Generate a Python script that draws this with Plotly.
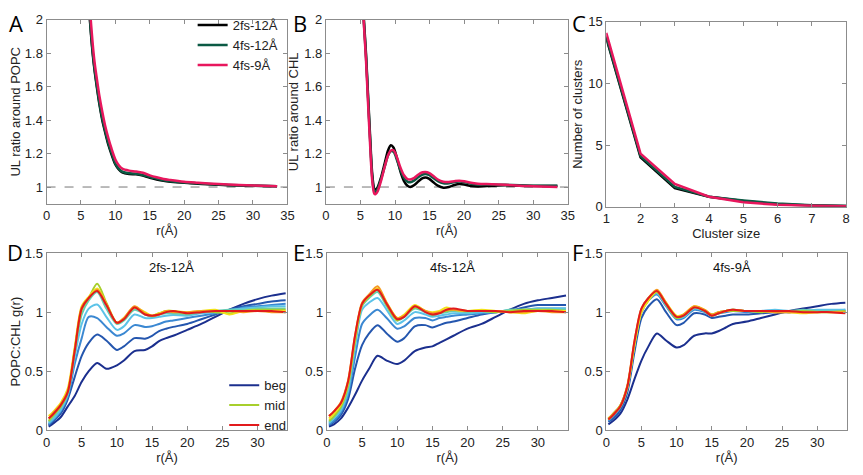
import plotly.graph_objects as go

# ---------------- data ----------------
# Panel A: UL ratio around POPC
rA = [6.0, 6.3, 6.7, 7.0, 7.3, 7.7, 8.1, 8.5, 9.0, 9.4, 10.0, 10.5, 11.0, 12.0, 13.0, 14.0,
      15.0, 16.0, 17.0, 18.0, 20.0, 22.0, 25.0, 28.0, 30.0, 33.5]
A_2fs12 = [2.2, 2.0, 1.8, 1.69, 1.6, 1.49, 1.4, 1.33, 1.25, 1.2, 1.135, 1.105, 1.088, 1.078, 1.076,
           1.068, 1.055, 1.045, 1.037, 1.032, 1.025, 1.02, 1.013, 1.009, 1.007, 1.005]
A_4fs12 = [2.21, 2.01, 1.81, 1.70, 1.61, 1.50, 1.41, 1.34, 1.26, 1.21, 1.14, 1.11, 1.092, 1.082, 1.08,
           1.072, 1.06, 1.05, 1.04, 1.035, 1.027, 1.022, 1.015, 1.01, 1.008, 1.005]
A_4fs9 = [2.28, 2.07, 1.86, 1.74, 1.65, 1.54, 1.45, 1.37, 1.29, 1.235, 1.165, 1.13, 1.11, 1.098, 1.093,
          1.085, 1.07, 1.058, 1.048, 1.042, 1.032, 1.026, 1.018, 1.012, 1.009, 1.005]

# Panel B: UL ratio around CHL
rB = [5.2, 5.5, 5.8, 6.1, 6.4, 6.7, 7.0, 7.2, 7.5, 8.0, 8.5, 9.0, 9.4, 9.8, 10.3, 10.8, 11.3, 11.8,
      12.2, 12.8, 13.4, 14.0, 14.4, 14.9, 15.5, 16.2, 17.0, 17.8, 18.6, 19.3, 20.0, 21.0, 22.0,
      24.0, 26.0, 28.0, 30.0, 33.5]
B_2fs12 = [2.22, 2.0, 1.8, 1.55, 1.3, 1.08, 0.99, 0.985, 1.0, 1.06, 1.14, 1.22, 1.25, 1.235, 1.17,
           1.09, 1.035, 1.007, 1.0, 1.012, 1.035, 1.053, 1.057, 1.05, 1.03, 1.008, 0.996, 1.0,
           1.012, 1.018, 1.015, 1.006, 1.003, 1.007, 1.01, 1.007, 1.006, 1.006]
B_4fs12 = [2.2, 1.98, 1.78, 1.53, 1.28, 1.06, 0.975, 0.972, 0.99, 1.05, 1.12, 1.19, 1.215, 1.21,
           1.16, 1.1, 1.055, 1.032, 1.028, 1.04, 1.06, 1.075, 1.078, 1.072, 1.055, 1.035, 1.022,
           1.022, 1.03, 1.033, 1.03, 1.02, 1.015, 1.015, 1.013, 1.01, 1.008, 1.008]
B_4fs9 = [2.2, 1.97, 1.76, 1.5, 1.25, 1.04, 0.96, 0.958, 0.975, 1.04, 1.12, 1.19, 1.218, 1.22,
          1.175, 1.115, 1.07, 1.048, 1.045, 1.055, 1.075, 1.088, 1.09, 1.085, 1.068, 1.045, 1.032,
          1.03, 1.035, 1.038, 1.035, 1.025, 1.02, 1.017, 1.013, 1.008, 1.005, 1.0]

# Panel C: number of clusters
cluster_size = [1, 2, 3, 4, 5, 6, 7, 8]
C_2fs12 = [13.7, 4.0, 1.5, 0.8, 0.45, 0.2, 0.1, 0.05]
C_4fs12 = [13.8, 4.1, 1.6, 0.8, 0.5, 0.25, 0.12, 0.06]
C_4fs9 = [14.1, 4.3, 1.85, 0.8, 0.35, 0.15, 0.08, 0.03]

series_names = ["2fs-12Å", "4fs-12Å", "4fs-9Å"]
series_colors = ["#000000", "#0b5a44", "#e8175d"]

# Panels D-F: POPC:CHL g(r), beg -> end
rG = [0.3, 1, 2, 3, 4, 5, 6, 7.2, 8.5, 10, 11, 12.5, 14, 15, 16, 17, 18, 20, 22, 24, 26, 28, 30, 32, 34]

D = [
    [0.03, 0.06, 0.11, 0.2, 0.29, 0.41, 0.5, 0.57, 0.52, 0.55, 0.59, 0.67, 0.68, 0.71, 0.755, 0.78, 0.8, 0.85, 0.9, 0.96, 1.02, 1.07, 1.11, 1.14, 1.16],
    [0.04, 0.08, 0.14, 0.26, 0.45, 0.63, 0.74, 0.81, 0.76, 0.68, 0.71, 0.78, 0.775, 0.8, 0.84, 0.86, 0.875, 0.9, 0.94, 0.98, 1.02, 1.05, 1.07, 1.09, 1.1],
    [0.05, 0.09, 0.16, 0.28, 0.56, 0.78, 0.96, 0.95, 0.875, 0.8, 0.82, 0.89, 0.875, 0.88, 0.9, 0.92, 0.93, 0.95, 0.97, 0.99, 1.01, 1.04, 1.05, 1.06, 1.07],
    [0.06, 0.1, 0.17, 0.3, 0.62, 0.9, 1.03, 1.065, 0.96, 0.85, 0.88, 0.98, 0.95, 0.95, 0.96, 0.97, 0.975, 0.97, 0.99, 1.0, 1.02, 1.03, 1.04, 1.05, 1.05],
    [0.07, 0.12, 0.19, 0.31, 0.66, 0.98, 1.1, 1.17, 1.03, 0.9, 0.93, 1.02, 0.98, 0.96, 0.98, 0.99, 0.99, 0.98, 1.0, 1.01, 1.02, 1.02, 1.03, 1.03, 1.03],
    [0.08, 0.13, 0.2, 0.32, 0.68, 1.02, 1.12, 1.24, 1.08, 0.91, 0.94, 1.04, 0.99, 0.97, 0.99, 1.01, 1.01, 0.99, 1.01, 1.0, 0.99, 1.01, 1.02, 1.02, 1.02],
    [0.12, 0.16, 0.23, 0.35, 0.7, 1.05, 1.13, 1.2, 1.07, 0.91, 0.95, 1.04, 1.0, 0.97, 0.99, 1.01, 1.01, 1.0, 1.01, 1.02, 0.98, 1.01, 1.01, 1.01, 1.01],
    [0.1, 0.15, 0.22, 0.33, 0.68, 1.04, 1.12, 1.19, 1.07, 0.91, 0.95, 1.05, 0.99, 0.97, 0.98, 1.01, 1.0, 1.0, 1.01, 1.01, 1.01, 1.0, 1.01, 1.0, 1.0],
    [0.1, 0.14, 0.21, 0.32, 0.67, 1.03, 1.12, 1.18, 1.06, 0.91, 0.94, 1.04, 0.98, 0.97, 0.98, 1.0, 1.01, 0.99, 1.0, 1.01, 1.01, 1.01, 1.01, 1.01, 1.0],
]
E = [
    [0.03, 0.05, 0.1, 0.19, 0.3, 0.42, 0.52, 0.63, 0.59, 0.56, 0.59, 0.67, 0.7, 0.71, 0.74, 0.77, 0.8, 0.86, 0.9, 0.96, 1.02, 1.07, 1.1, 1.12, 1.14],
    [0.04, 0.07, 0.13, 0.26, 0.52, 0.72, 0.82, 0.89, 0.82, 0.75, 0.78, 0.88, 0.89, 0.87, 0.89, 0.91, 0.92, 0.95, 0.98, 1.0, 1.01, 1.04, 1.06, 1.06, 1.06],
    [0.05, 0.08, 0.15, 0.3, 0.62, 0.9, 0.97, 1.02, 0.95, 0.86, 0.88, 0.95, 0.95, 0.93, 0.95, 0.96, 0.97, 0.98, 0.99, 1.0, 1.01, 1.02, 1.03, 1.03, 1.03],
    [0.06, 0.1, 0.17, 0.33, 0.7, 1.02, 1.08, 1.12, 1.02, 0.9, 0.93, 1.0, 0.98, 0.96, 0.97, 0.98, 0.99, 0.99, 1.0, 1.0, 1.02, 1.02, 1.03, 1.03, 1.03],
    [0.07, 0.11, 0.19, 0.36, 0.74, 1.05, 1.12, 1.17, 1.05, 0.93, 0.96, 1.03, 1.0, 0.97, 0.99, 1.0, 1.01, 1.0, 1.01, 1.0, 1.02, 1.02, 1.02, 1.02, 1.02],
    [0.08, 0.12, 0.2, 0.38, 0.76, 1.06, 1.13, 1.19, 1.06, 0.93, 0.97, 1.04, 1.01, 0.98, 1.0, 1.01, 1.02, 1.01, 1.01, 1.0, 1.01, 1.02, 1.02, 1.02, 1.01],
    [0.1, 0.14, 0.22, 0.4, 0.78, 1.07, 1.14, 1.2, 1.08, 0.95, 0.98, 1.06, 1.01, 1.0, 1.01, 1.04, 1.02, 1.01, 1.02, 1.01, 1.0, 0.99, 1.01, 1.01, 1.01],
    [0.12, 0.16, 0.24, 0.42, 0.8, 1.08, 1.15, 1.22, 1.08, 0.95, 0.97, 1.05, 1.01, 0.99, 1.0, 1.02, 1.02, 1.01, 1.01, 1.01, 1.0, 1.0, 1.01, 1.0, 1.0],
    [0.12, 0.16, 0.23, 0.41, 0.8, 1.07, 1.14, 1.19, 1.07, 0.94, 0.96, 1.05, 1.0, 0.98, 0.99, 1.02, 1.03, 1.01, 1.01, 1.01, 1.0, 1.01, 1.01, 1.01, 1.0],
]
F = [
    [0.05, 0.08, 0.14, 0.26, 0.43, 0.59, 0.71, 0.82, 0.76, 0.7, 0.72, 0.8, 0.82, 0.82, 0.84, 0.87, 0.9, 0.92, 0.95, 0.98, 1.01, 1.03, 1.05, 1.07, 1.08],
    [0.07, 0.1, 0.17, 0.32, 0.66, 0.95, 1.05, 1.11, 1.0, 0.89, 0.91, 0.99, 0.98, 0.95, 0.96, 0.97, 0.98, 0.98, 0.99, 1.0, 1.0, 1.01, 1.01, 1.01, 1.01],
    [0.08, 0.12, 0.19, 0.35, 0.7, 1.0, 1.1, 1.15, 1.05, 0.94, 0.95, 1.02, 1.0, 0.97, 0.99, 1.0, 1.01, 1.0, 1.01, 1.01, 1.0, 1.01, 1.01, 1.01, 1.02],
    [0.09, 0.13, 0.2, 0.36, 0.72, 1.01, 1.11, 1.16, 1.06, 0.95, 0.96, 1.03, 1.01, 0.98, 0.99, 1.01, 1.02, 1.01, 1.01, 1.02, 1.01, 1.01, 1.02, 1.02, 1.02],
    [0.09, 0.14, 0.21, 0.37, 0.73, 1.02, 1.12, 1.17, 1.06, 0.95, 0.97, 1.04, 1.01, 0.98, 1.0, 1.01, 1.02, 1.01, 1.01, 1.01, 1.01, 1.02, 1.01, 1.01, 1.01],
    [0.1, 0.14, 0.21, 0.37, 0.72, 1.0, 1.1, 1.17, 1.07, 0.95, 0.97, 1.04, 1.01, 0.97, 0.99, 1.01, 1.01, 1.01, 1.0, 1.01, 1.0, 1.01, 1.0, 1.0, 1.01],
    [0.09, 0.13, 0.2, 0.36, 0.72, 1.0, 1.1, 1.18, 1.08, 0.97, 0.98, 1.05, 1.02, 0.98, 1.0, 1.01, 1.02, 1.01, 1.01, 1.0, 1.0, 0.99, 1.0, 1.0, 1.0],
    [0.1, 0.14, 0.21, 0.38, 0.75, 1.03, 1.12, 1.19, 1.08, 0.96, 0.98, 1.05, 1.02, 0.98, 1.0, 1.01, 1.02, 1.01, 1.01, 1.0, 1.0, 1.0, 1.0, 1.0, 1.0],
    [0.09, 0.13, 0.2, 0.37, 0.75, 1.03, 1.12, 1.18, 1.07, 0.96, 0.97, 1.04, 1.01, 0.97, 0.99, 1.01, 1.02, 1.01, 1.01, 1.01, 1.01, 1.0, 1.0, 1.0, 0.99],
]
time_colors = ["#1b2f8e", "#2456ae", "#3b88d2", "#5cc3e8", "#66cdb2", "#a7cf2c", "#f3e21a", "#f59a1f", "#e21a1c"]
time_labels = {0: "beg", 5: "mid", 8: "end"}

panel_titles = ["2fs-12Å", "4fs-12Å", "4fs-9Å"]

# ---------------- figure ----------------
# the page body has an 8px margin, so the figure is placed 8px in from the window corner
OFF = 8
W, H = 863 - OFF, 475 - OFF
FONT = "Liberation Sans, Arial, sans-serif"
AXC = "#8c8c8c"

def px_x(a, b):
    return [(a - OFF) / W, (b - OFF) / W]

def px_y(top, bottom):
    return [1 - (bottom - OFF) / H, 1 - (top - OFF) / H]

def fx(a):
    return (a - OFF) / W

def fy(a):
    return 1 - (a - OFF) / H

fig = go.Figure()

# top row
for vals, name, col in zip([A_2fs12, A_4fs12, A_4fs9], series_names, series_colors):
    fig.add_trace(go.Scatter(x=rA, y=vals, mode="lines", name=name, line=dict(color=col, width=2.5, shape="spline", smoothing=0.8),
                             xaxis="x", yaxis="y", legend="legend"))
for vals, name, col in zip([B_2fs12, B_4fs12, B_4fs9], series_names, series_colors):
    fig.add_trace(go.Scatter(x=rB, y=vals, mode="lines", name=name, showlegend=False,
                             line=dict(color=col, width=2.5, shape="spline", smoothing=0.8), xaxis="x2", yaxis="y2"))
for vals, name, col in zip([C_2fs12, C_4fs12, C_4fs9], series_names, series_colors):
    fig.add_trace(go.Scatter(x=cluster_size, y=vals, mode="lines", name=name, showlegend=False,
                             line=dict(color=col, width=2.5), xaxis="x3", yaxis="y3"))

# bottom row
for k, data in enumerate([D, E, F]):
    xa = "x%d" % (k + 4)
    ya = "y%d" % (k + 4)
    for i, vals in enumerate(data):
        show = (k == 0 and i in time_labels)
        fig.add_trace(go.Scatter(x=rG, y=vals, mode="lines", name=time_labels.get(i, "t%d" % i),
                                 showlegend=show, legend="legend2",
                                 line=dict(color=time_colors[i], width=2, shape="spline", smoothing=0.8),
                                 xaxis=xa, yaxis=ya))

def axis(domain, rng, tickvals, anchor, title=None, standoff=2):
    d = dict(domain=domain, range=rng, tickvals=tickvals, anchor=anchor,
             showline=True, linecolor=AXC, linewidth=1, mirror="ticks",
             ticks="inside", ticklen=4, tickcolor=AXC, showgrid=False, zeroline=False,
             tickfont=dict(size=13, color="#222", family=FONT))
    if title:
        d["title"] = dict(text=title, font=dict(size=13, color="#222", family=FONT), standoff=standoff)
    return d

top_y = px_y(13, 203)
topC_y = px_y(15, 206)
bot_y = px_y(254, 437)
colA = px_x(43, 287)
colB = px_x(326, 571)
colC = px_x(610, 853)
colE = px_x(327, 571)
colF = px_x(610, 854)

r_ticks = [0, 5, 10, 15, 20, 25, 30, 35]
g_ticks = [0, 5, 10, 15, 20, 25, 30]

fig.update_layout(
    width=W, height=H, margin=dict(l=0, r=0, t=0, b=0),
    paper_bgcolor="white", plot_bgcolor="white",
    font=dict(family=FONT, size=13, color="#222"),
    xaxis=axis(colA, [0, 35], r_ticks, "y", "r(Å)"),
    yaxis=axis(top_y, [0.9, 2], [1, 1.2, 1.4, 1.6, 1.8, 2], "x", "UL ratio around POPC"),
    xaxis2=axis(colB, [0, 35], r_ticks, "y2", "r(Å)"),
    yaxis2=axis(top_y, [0.9, 2], [1, 1.2, 1.4, 1.6, 1.8, 2], "x2", "UL ratio around CHL"),
    xaxis3=axis(colC, [1, 8], cluster_size, "y3", "Cluster size"),
    yaxis3=axis(topC_y, [0, 15], [0, 5, 10, 15], "x3", "Number of clusters"),
    xaxis4=axis(colA, [0, 34.25], g_ticks, "y4", "r(Å)"),
    yaxis4=axis(bot_y, [0, 1.5], [0, 0.5, 1, 1.5], "x4", "POPC:CHL g(r)"),
    xaxis5=axis(colE, [0, 34.25], g_ticks, "y5", "r(Å)"),
    yaxis5=axis(bot_y, [0, 1.5], [0, 0.5, 1, 1.5], "x5"),
    xaxis6=axis(colF, [0, 34.25], g_ticks, "y6", "r(Å)"),
    yaxis6=axis(bot_y, [0, 1.5], [0, 0.5, 1, 1.5], "x6"),
    legend=dict(x=fx(191), y=fy(3), xanchor="left", yanchor="top", bgcolor="rgba(0,0,0,0)",
                font=dict(size=13, family=FONT, color="#222"), tracegroupgap=0),
    legend2=dict(x=fx(223), y=fy(375), xanchor="left", yanchor="top", bgcolor="rgba(0,0,0,0)",
                 font=dict(size=13, family=FONT, color="#222"), tracegroupgap=0),
    showlegend=True,
)

# dashed reference lines at ratio 1
for xr, yr in [("x domain", "y"), ("x2 domain", "y2")]:
    fig.add_shape(type="line", xref=xr, yref=yr, x0=0, x1=1, y0=1, y1=1,
                  line=dict(color="#777", width=1, dash="dash"), layer="below")

# panel letters
letters = [("A", 12, 16), ("B", 300, 16), ("C", 582, 16), ("D", 11, 253), ("E", 299, 253), ("F", 581, 253)]
for t, x, y in letters:
    fig.add_annotation(text=t, x=fx(x), y=fy(y), xref="paper", yref="paper", showarrow=False,
                       font=dict(size=22, family="Open Sans, " + FONT, color="#000"), xanchor="center", yanchor="middle")

# panel titles D-F
for k, t in enumerate(panel_titles):
    fig.add_annotation(text=t, x=0.52, y=0.92, xref="x%d domain" % (k + 4), yref="y%d domain" % (k + 4),
                       showarrow=False, font=dict(size=13, family=FONT, color="#111"), xanchor="center", yanchor="middle")

fig.write_html("out.html")
